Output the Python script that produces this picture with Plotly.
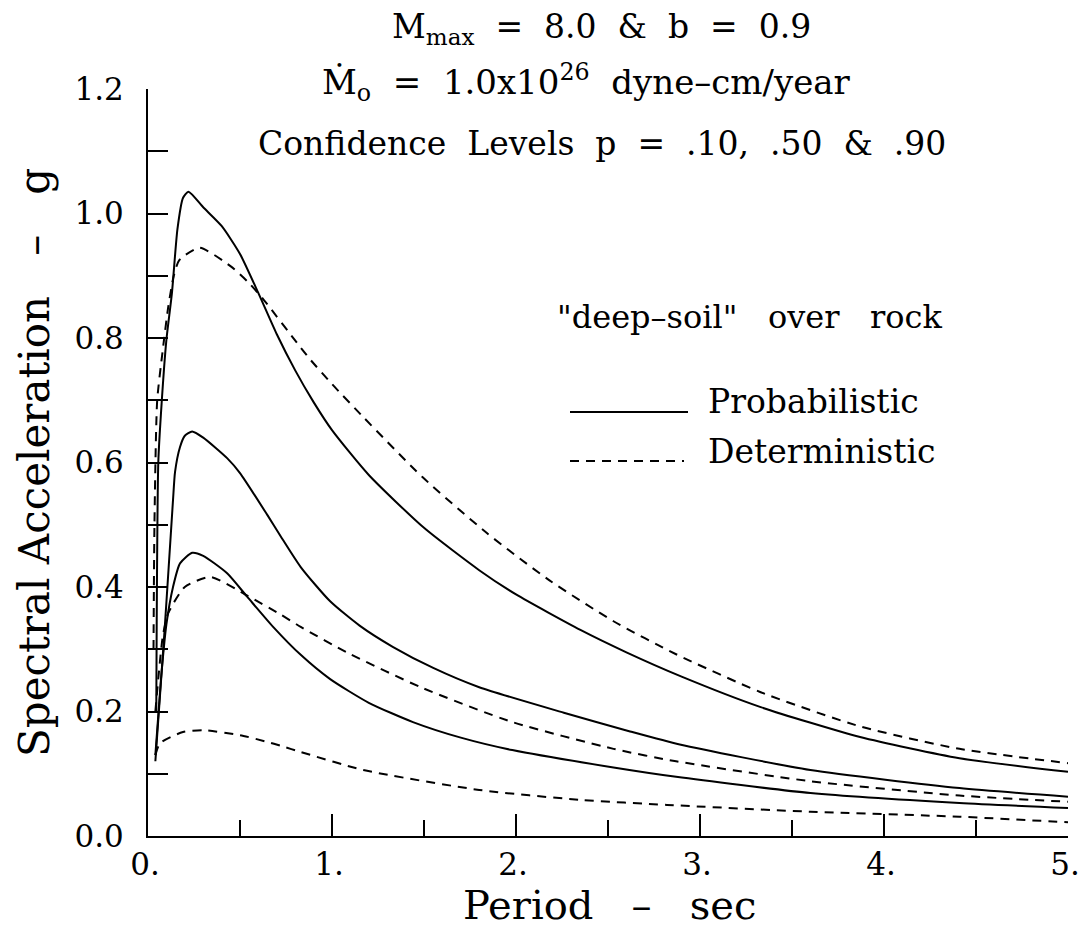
import plotly.graph_objects as go

# ---- data ----
prob_90_x = [0.045, 0.056, 0.074, 0.10, 0.13, 0.16, 0.19, 0.22, 0.30, 0.40, 0.50, 0.60, 0.70, 0.80, 0.90, 1.00,
             1.20, 1.50, 1.80, 2.00, 2.35, 2.60, 2.90, 3.33, 3.87, 4.41, 5.00]
prob_90_y = [0.20, 0.60, 0.695, 0.797, 0.872, 0.975, 1.025, 1.035, 1.010, 0.980, 0.935, 0.872, 0.806, 0.748, 0.697,
             0.652, 0.580, 0.495, 0.427, 0.388, 0.331, 0.295, 0.256, 0.207, 0.159, 0.125, 0.103]

det_90_x = [0.03, 0.035, 0.05, 0.08, 0.11, 0.14, 0.17, 0.28, 0.45, 0.55, 0.63, 0.81, 0.88, 1.00, 1.17, 1.49,
            1.84, 2.18, 2.53, 2.87, 3.33, 3.87, 4.41, 5.00]
det_90_y = [0.30, 0.50, 0.70, 0.78, 0.85, 0.90, 0.925, 0.945, 0.915, 0.888, 0.861, 0.792, 0.766, 0.726, 0.673,
            0.577, 0.487, 0.411, 0.345, 0.292, 0.231, 0.176, 0.140, 0.117]

prob_50_x = [0.04, 0.09, 0.136, 0.147, 0.174, 0.20, 0.24, 0.30, 0.43, 0.50, 0.65, 0.72, 0.83, 0.99, 1.15, 1.33,
             1.55, 1.80, 2.26, 2.62, 2.89, 3.60, 4.41, 5.00]
prob_50_y = [0.12, 0.33, 0.54, 0.585, 0.625, 0.643, 0.650, 0.640, 0.607, 0.583, 0.515, 0.482, 0.432, 0.377, 0.338,
             0.304, 0.270, 0.239, 0.198, 0.168, 0.147, 0.106, 0.077, 0.063]

det_50_x = [0.04, 0.08, 0.11, 0.20, 0.34, 0.54, 0.72, 0.83, 1.08, 1.49, 1.98, 2.53, 2.87, 3.60, 4.41, 5.00]
det_50_y = [0.20, 0.32, 0.358, 0.400, 0.416, 0.386, 0.356, 0.336, 0.295, 0.238, 0.183, 0.140, 0.120, 0.088,
            0.065, 0.055]

prob_10_x = [0.04, 0.07, 0.10, 0.136, 0.174, 0.24, 0.30, 0.43, 0.54, 0.68, 0.83, 0.99, 1.20, 1.44, 1.70, 1.98,
             2.53, 2.87, 3.60, 4.41, 5.00]
prob_10_y = [0.13, 0.25, 0.34, 0.40, 0.438, 0.455, 0.450, 0.422, 0.384, 0.336, 0.291, 0.252, 0.214, 0.183, 0.158,
             0.138, 0.110, 0.095, 0.069, 0.053, 0.045]

det_10_x = [0.04, 0.065, 0.19, 0.30, 0.50, 0.65, 0.72, 0.83, 1.17, 1.80, 2.35, 2.82, 3.60, 4.41, 5.00]
det_10_y = [0.13, 0.149, 0.167, 0.170, 0.162, 0.151, 0.145, 0.135, 0.106, 0.074, 0.058, 0.050, 0.039, 0.031,
            0.022]

x_tick_vals = [0, 1, 2, 3, 4, 5]
x_tick_text = ["0.", "1.", "2.", "3.", "4.", "5."]
y_tick_vals = [0.0, 0.2, 0.4, 0.6, 0.8, 1.0, 1.2]
y_tick_text = ["0.0", "0.2", "0.4", "0.6", "0.8", "1.0", "1.2"]

FONT = "DejaVu Serif, Liberation Serif, serif"
NB = "\u00a0"

fig = go.Figure()
solid = dict(color="black", width=2)
dashed = dict(color="black", width=2, dash="9px,7px")
for xs, ys, ln in [(prob_90_x, prob_90_y, solid), (prob_50_x, prob_50_y, solid), (prob_10_x, prob_10_y, solid),
                   (det_90_x, det_90_y, dashed), (det_50_x, det_50_y, dashed), (det_10_x, det_10_y, dashed)]:
    fig.add_trace(go.Scatter(x=xs, y=ys, mode="lines", line=dict(**ln, shape="spline", smoothing=0.6),
                             showlegend=False, hoverinfo="skip"))

W, H = 1081, 942
L, R, T, B = 148, 13, 89, 106
PW, PH = W - L - R, H - T - B


def px(xp):
    return (xp - L) / PW


def py(yp):
    return (H - B - yp) / PH


annos = []


def txt(text, xp, yp, size, xanchor="center", yanchor="middle", angle=0):
    annos.append(dict(text=text, x=px(xp), y=py(yp), xref="paper", yref="paper", showarrow=False,
                      xanchor=xanchor, yanchor=yanchor, textangle=angle,
                      font=dict(family=FONT, size=size, color="black")))


S2 = NB * 2
S3 = NB * 3
txt(f"M<sub>max</sub>{S2}={S2}8.0{S2}&amp;{S2}b{S2}={S2}0.9", 601, 29, 33)
txt(f"Ṁ<sub>o</sub>{S2}={S2}1.0x10<sup>26</sup>{S2}dyne–cm/year", 586, 83, 34)
txt(f"Confidence{S2}Levels{S2}p{S2}={S2}.10,{S2}.50{S2}&amp;{S2}.90", 602, 143, 33)

txt(f"\"deep–soil\"{S3}over{S3}rock", 555, 317, 32, xanchor="left")
txt("Probabilistic", 706, 401, 33, xanchor="left")
txt("Deterministic", 706, 451, 33, xanchor="left")

txt(f"Period{S3}–{S3}sec", 609, 905, 40)
txt(f"Spectral Acceleration{S3}–{S3}g", 34, 463, 42, angle=-90)

shapes = [
    dict(type="line", xref="paper", yref="paper", x0=px(570), x1=px(688), y0=py(412), y1=py(412),
         line=dict(color="black", width=2)),
    dict(type="line", xref="paper", yref="paper", x0=px(570), x1=px(684), y0=py(461), y1=py(461),
         line=dict(color="black", width=2, dash="9px,7px")),
]

fig.update_layout(
    width=W, height=H,
    margin=dict(l=L, r=R, t=T, b=B, pad=0, autoexpand=False),
    paper_bgcolor="white", plot_bgcolor="white",
    annotations=annos, shapes=shapes,
    font=dict(family=FONT, color="black"),
)
fig.update_xaxes(range=[0, 5], showgrid=False, zeroline=False, showline=True, linecolor="black", linewidth=2,
                 ticks="inside", ticklen=22, tickwidth=2, tickcolor="black", automargin=False,
                 tickvals=x_tick_vals, ticktext=x_tick_text, tickfont=dict(family=FONT, size=31),
                 ticklabelstandoff=0, ticklabeloverflow="allow", ticklabelshift=-3,
                 minor=dict(ticks="inside", ticklen=16, tickwidth=2, tickcolor="black", dtick=0.5,
                            showgrid=False))
fig.update_yaxes(range=[0, 1.2], showgrid=False, zeroline=False, showline=True, linecolor="black", linewidth=2,
                 ticks="inside", ticklen=20, tickwidth=2, tickcolor="black", automargin=False,
                 tickvals=y_tick_vals, ticktext=y_tick_text, tickfont=dict(family=FONT, size=31),
                 ticklabelstandoff=16,
                 minor=dict(ticks="inside", ticklen=20, tickwidth=2, tickcolor="black", dtick=0.1,
                            showgrid=False))

fig.write_html("out.html")
